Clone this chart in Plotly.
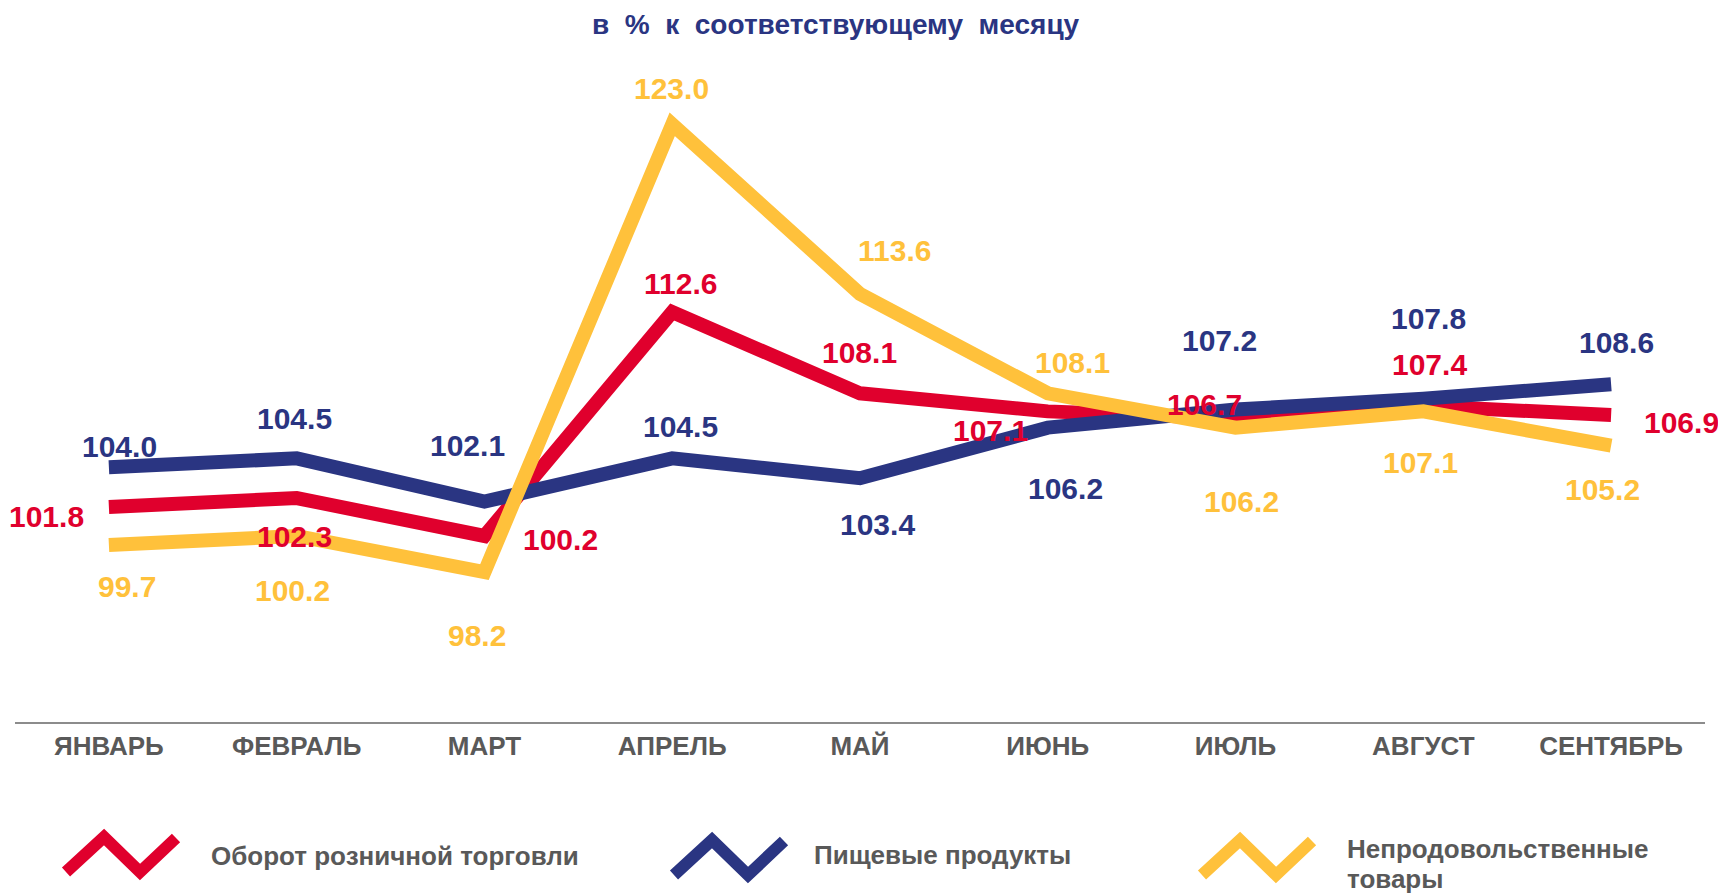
import plotly.graph_objects as go

months = ["ЯНВАРЬ", "ФЕВРАЛЬ", "МАРТ", "АПРЕЛЬ", "МАЙ", "ИЮНЬ", "ИЮЛЬ", "АВГУСТ", "СЕНТЯБРЬ"]
retail = [101.8, 102.3, 100.2, 112.6, 108.1, 107.1, 106.7, 107.4, 106.9]
food = [104.0, 104.5, 102.1, 104.5, 103.4, 106.2, 107.2, 107.8, 108.6]
nonfood = [99.7, 100.2, 98.2, 123.0, 113.6, 108.1, 106.2, 107.1, 105.2]

series_names = ["Оборот розничной торговли", "Пищевые продукты", "Непродовольственные<br>товары"]
title_text = "в  %  к  соответствующему  месяцу"

# styles / label offsets (pixels)
RED = "#E0002D"
BLUE = "#2A3582"
YEL = "#FFC13B"
GREY = "#595959"
FONT = "Liberation Sans, Arial, sans-serif"

off_retail = [(-62, 9), (-2, 38), (76, 4), (8, -29), (-1, -41), (-57, 19), (-31, -14), (6, -41), (70, 8)]
off_food = [(11, -21), (-2, -40), (-17, -56), (8, -32), (17, 46), (18, 61), (-16, -69), (5, -80), (5, -42)]
off_nonfood = [(18, 41), (-4, 55), (-7, 63), (-1, -36), (34, -43), (25, -31), (6, 74), (-3, 51), (-9, 44)]

# page body has an 8px margin; figure is sized to fit the window
PAGE_OFF = 8
W, H = 1726 - PAGE_OFF, 893 - PAGE_OFF
# plot area in page pixels: x 15..1705, y 40..722
PL, PR, PT, PB = 15, 1705, 40, 722
L = PL - PAGE_OFF
R = W - (PR - PAGE_OFF)
T = PT - PAGE_OFF
B = H - (PB - PAGE_OFF)
Y0 = 89.9
PXU = 18.06
Y1 = Y0 + (PB - PT) / PXU

def px2paper(px, py):
    return (px - PL) / (PR - PL), (PB - py) / (PB - PT)

fig = go.Figure()
for vals, col in [(retail, RED), (food, BLUE), (nonfood, YEL)]:
    fig.add_trace(go.Scatter(x=months, y=vals, mode="lines",
                             line=dict(color=col, width=14), showlegend=False,
                             hoverinfo="x+y"))

annotations = []
for vals, offs, col in [(retail, off_retail, RED), (food, off_food, BLUE), (nonfood, off_nonfood, YEL)]:
    for m, v, (dx, dy) in zip(months, vals, offs):
        annotations.append(dict(x=m, y=v, xref="x", yref="y", text=f"<b>{v:.1f}</b>",
                                showarrow=False, xshift=dx, yshift=-dy,
                                xanchor="center", yanchor="middle",
                                font=dict(family=FONT, size=30, color=col)))

tx, ty = px2paper(836, 24)
annotations.append(dict(x=tx, y=ty, xref="paper", yref="paper", text="<b>" + title_text + "</b>",
                        showarrow=False, xanchor="center", yanchor="middle",
                        font=dict(family=FONT, size=28, color=BLUE)))

# legend (custom zigzag symbols)
shapes = []
base = [(66, 872), (104, 837), (140, 872), (176, 838)]
legend_items = [(0, 0, RED, 209, [856]), (608, 3, BLUE, 812, [855]), (1136, 3, YEL, 1345, [849, 879])]
for (dxl, dyl, col, lx, lys), name in zip(legend_items, series_names):
    pts = [px2paper(x + dxl, y + dyl) for x, y in base]
    path = "M " + " L ".join(f"{a:.5f},{b:.5f}" for a, b in pts)
    shapes.append(dict(type="path", path=path, xref="paper", yref="paper",
                       line=dict(color=col, width=12)))
    for part, ly in zip(name.split("<br>"), lys):
        ax, ay = px2paper(lx, ly)
        annotations.append(dict(x=ax, y=ay, xref="paper", yref="paper", text="<b>" + part + "</b>",
                                showarrow=False, xanchor="left", yanchor="middle",
                                font=dict(family=FONT, size=26, color=GREY)))

fig.update_layout(
    width=W, height=H,
    margin=dict(l=L, r=R, t=T, b=B),
    plot_bgcolor="white", paper_bgcolor="white",
    xaxis=dict(type="category", range=[-0.5, 8.5], showline=True, linecolor="#8C8C8C",
               linewidth=2, showgrid=False, zeroline=False, ticks="",
               tickfont=dict(family=FONT, size=26, color=GREY),
               tickprefix="<b>", ticksuffix="</b>", ticklabelstandoff=0),
    yaxis=dict(range=[Y0, Y1], visible=False, showgrid=False, zeroline=False),
    annotations=annotations, shapes=shapes,
    font=dict(family=FONT),
)

fig.write_html("out.html")
